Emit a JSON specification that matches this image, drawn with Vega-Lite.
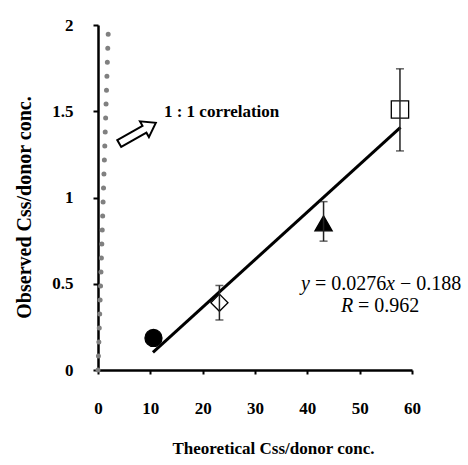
{
  "$schema": "https://vega.github.io/schema/vega-lite/v6.json",
  "width": 314,
  "height": 345,
  "autosize": {"type": "none"},
  "padding": {"left": 98, "top": 25, "right": 56, "bottom": 95},
  "background": "white",
  "config": {
    "view": {"stroke": null},
    "font": "Liberation Serif",
    "axis": {
      "grid": false,
      "domainColor": "black",
      "domainWidth": 2.5,
      "tickColor": "black",
      "tickWidth": 2,
      "labelFont": "Liberation Serif",
      "labelFontWeight": "bold",
      "labelFontSize": 17,
      "labelColor": "black",
      "labelFlush": false,
      "titleFont": "Liberation Serif",
      "titleFontWeight": "bold",
      "titleColor": "black"
    },
    "axisX": {
      "tickSize": 4,
      "labelPadding": 26,
      "titleFontSize": 17,
      "titlePadding": 24,
      "titleX": 175
    },
    "axisY": {
      "tickSize": 5,
      "labelPadding": 20,
      "labelAlign": "right",
      "titleFontSize": 20,
      "titlePadding": 17,
      "titleY": 182
    }
  },
  "encoding": {
    "x": {
      "field": "x",
      "type": "quantitative",
      "scale": {"domain": [0, 60], "nice": false},
      "axis": {"values": [0, 10, 20, 30, 40, 50, 60]},
      "title": "Theoretical Css/donor conc."
    },
    "y": {
      "field": "y",
      "type": "quantitative",
      "scale": {"domain": [0, 2], "nice": false},
      "axis": {"values": [0, 0.5, 1, 1.5, 2], "format": "~g"},
      "title": "Observed Css/donor conc."
    }
  },
  "layer": [
    {
      "data": {"values": [{"x": 0, "y": 0}, {"x": 1.95, "y": 1.95}]},
      "mark": {"type": "line", "color": "#808080", "strokeWidth": 5, "strokeCap": "round", "strokeDash": [0, 14]}
    },
    {
      "data": {"values": [{"x": 10.5, "y": 0.102}, {"x": 57.8, "y": 1.407}]},
      "mark": {"type": "line", "color": "black", "strokeWidth": 3}
    },
    {
      "data": {"values": [
        {"x": 10.6, "y": 0.186, "group": "a"},
        {"x": 23.2, "y": 0.39, "group": "b"},
        {"x": 43.1, "y": 0.85, "group": "c"},
        {"x": 57.7, "y": 1.51, "group": "d"}
      ]},
      "mark": {"type": "point", "filled": true, "stroke": "black", "strokeWidth": 1.3, "opacity": 1},
      "encoding": {
        "shape": {"field": "group", "type": "nominal", "scale": {"domain": ["a", "b", "c", "d"], "range": ["circle", "diamond", "triangle-up", "square"]}, "legend": null},
        "fill": {"field": "group", "type": "nominal", "scale": {"domain": ["a", "b", "c", "d"], "range": ["black", "transparent", "black", "transparent"]}, "legend": null},
        "size": {"field": "group", "type": "nominal", "scale": {"domain": ["a", "b", "c", "d"], "range": [290, 300, 300, 280]}, "legend": null}
      }
    },
    {
      "data": {"values": [
        {"x": 23.2, "lo": 0.29, "hi": 0.49},
        {"x": 43.1, "lo": 0.747, "hi": 0.976},
        {"x": 57.7, "lo": 1.27, "hi": 1.746}
      ]},
      "layer": [
        {
          "mark": {"type": "rule", "color": "#222222", "strokeWidth": 1.5},
          "encoding": {"y": {"field": "lo", "type": "quantitative"}, "y2": {"field": "hi"}}
        },
        {
          "mark": {"type": "tick", "orient": "horizontal", "color": "#222222", "size": 8, "thickness": 1.5},
          "encoding": {"y": {"field": "lo", "type": "quantitative"}}
        },
        {
          "mark": {"type": "tick", "orient": "horizontal", "color": "#222222", "size": 8, "thickness": 1.5},
          "encoding": {"y": {"field": "hi", "type": "quantitative"}}
        }
      ]
    },
    {
      "data": {"values": [{"x": 7.55, "y": 1.373}]},
      "mark": {
        "type": "point",
        "shape": "M -1 -0.19 L 0.38 -0.19 L 0.38 -0.43 L 1 0 L 0.38 0.43 L 0.38 0.19 L -1 0.19 Z",
        "angle": 330.5,
        "size": 1764,
        "filled": false,
        "stroke": "black",
        "strokeWidth": 2,
        "opacity": 1
      }
    },
    {
      "data": {"values": [{"x": 12.6, "y": 1.495, "label": "1 : 1 correlation"}]},
      "mark": {"type": "text", "align": "left", "baseline": "middle", "font": "Liberation Serif", "fontWeight": "bold", "fontSize": 17, "color": "black"},
      "encoding": {"text": {"field": "label"}}
    },
    {
      "data": {"values": [{"x": 54.08, "y": 0.501, "label": "y"}]},
      "mark": {"type": "text", "align": "left", "baseline": "middle", "dx": -80, "font": "Liberation Serif", "fontStyle": "italic", "fontSize": 20, "color": "black"},
      "encoding": {"text": {"field": "label"}}
    },
    {
      "data": {"values": [{"x": 54.08, "y": 0.501, "label": "= 0.0276"}]},
      "mark": {"type": "text", "align": "left", "baseline": "middle", "dx": -66, "font": "Liberation Serif", "fontSize": 20, "color": "black"},
      "encoding": {"text": {"field": "label"}}
    },
    {
      "data": {"values": [{"x": 54.08, "y": 0.501, "label": "x"}]},
      "mark": {"type": "text", "align": "left", "baseline": "middle", "dx": 5, "font": "Liberation Serif", "fontStyle": "italic", "fontSize": 20, "color": "black"},
      "encoding": {"text": {"field": "label"}}
    },
    {
      "data": {"values": [{"x": 54.08, "y": 0.501, "label": "− 0.188"}]},
      "mark": {"type": "text", "align": "left", "baseline": "middle", "dx": 19, "font": "Liberation Serif", "fontSize": 20, "color": "black"},
      "encoding": {"text": {"field": "label"}}
    },
    {
      "data": {"values": [{"x": 54.08, "y": 0.3735, "label": "R"}]},
      "mark": {"type": "text", "align": "left", "baseline": "middle", "dx": -40, "font": "Liberation Serif", "fontStyle": "italic", "fontSize": 20, "color": "black"},
      "encoding": {"text": {"field": "label"}}
    },
    {
      "data": {"values": [{"x": 54.08, "y": 0.3735, "label": "= 0.962"}]},
      "mark": {"type": "text", "align": "left", "baseline": "middle", "dx": -23, "font": "Liberation Serif", "fontSize": 20, "color": "black"},
      "encoding": {"text": {"field": "label"}}
    }
  ]
}
